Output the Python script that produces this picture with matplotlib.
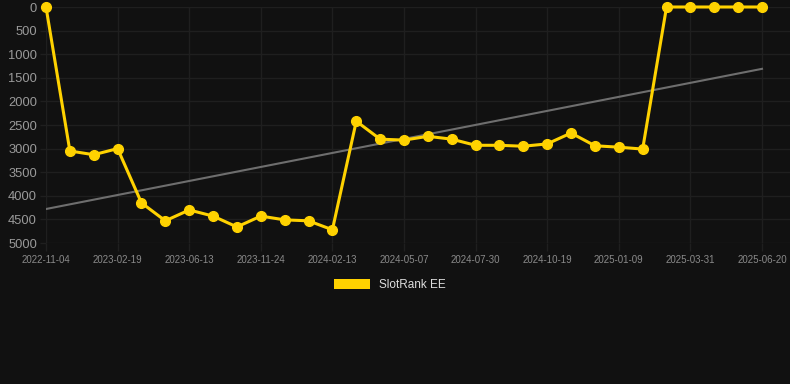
import matplotlib
matplotlib.use("Agg")
import matplotlib.pyplot as plt
import numpy as np
from matplotlib.patches import Patch

plt.rcParams['font.family'] = ['Liberation Sans', 'DejaVu Sans']

# rank per sample (lower is better), 31 samples
ranks = [0, 3050, 3130, 3000, 4150, 4530, 4300, 4430, 4660, 4430,
         4510, 4530, 4720, 2420, 2800, 2820, 2740, 2800, 2930, 2930,
         2950, 2900, 2670, 2940, 2970, 3010, 0, 0, 0, 0, 0]
tick_labels = ["2022-11-04", "2023-02-19", "2023-06-13", "2023-11-24", "2024-02-13",
               "2024-05-07", "2024-07-30", "2024-10-19", "2025-01-09", "2025-03-31",
               "2025-06-20"]
trend_ends = [4280, 1310]

bg = "#111111"
gold = "#FFD200"
grid_c = "#1f1f1f"

fig = plt.figure(figsize=(7.9, 3.84), dpi=100, facecolor=bg)
ax = fig.add_axes([46/790, 1-243/384, (790-46)/790, (243-7)/384], facecolor=bg)

x = np.arange(len(ranks))
ax.plot([x[0], x[-1]], trend_ends, color="#6e6e6e", lw=1.5, zorder=2)
ax.plot(x, ranks, color=gold, lw=2.2, marker="o", ms=7, zorder=3, clip_on=False)

n = len(ranks) - 1
ax.set_xlim(0, n * (790 - 46) / (762 - 46))
ax.set_ylim(5000, 0)
ax.set_yticks(range(0, 5001, 500))
ax.set_xticks(x[::3])
ax.set_xticklabels(tick_labels)

ax.grid(True, color=grid_c, lw=1)
for s in ax.spines.values():
    s.set_visible(False)
ax.tick_params(axis='y', colors=grid_c, labelcolor="#9a9a9a", labelsize=9.3, length=4.5, width=1, pad=2)
ax.tick_params(axis='x', colors=grid_c, labelcolor="#8a8a8a", labelsize=7, length=6, width=1, pad=2.5)

leg = fig.legend(handles=[Patch(facecolor=gold, label="SlotRank EE")],
                 loc="center", bbox_to_anchor=(390/790, 1-285/384), frameon=False,
                 handlelength=3.0, handleheight=0.9, fontsize=8.5, labelcolor="#dddddd")

fig.savefig("out.png", dpi=100, facecolor=bg)
